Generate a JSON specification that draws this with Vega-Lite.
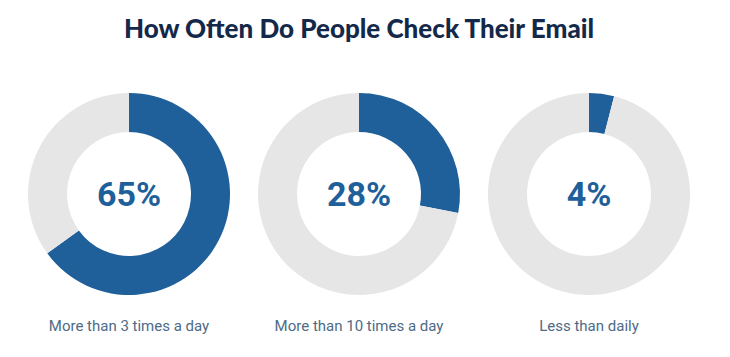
{
  "$schema": "https://vega.github.io/schema/vega-lite/v6.json",
  "padding": {"left": 28, "top": 17, "right": 40, "bottom": 10},
  "background": "white",
  "title": {"text": "How Often Do People Check Their Email", "font": "Lato", "fontSize": 26, "fontWeight": 900, "color": "#14294a", "anchor": "middle", "offset": 50},
  "data": {"values": [
    {"category": "More than 3 times a day", "part": "share", "order": 1, "value": 65, "label": "65%"},
    {"category": "More than 3 times a day", "part": "rest", "order": 2, "value": 35, "label": ""},
    {"category": "More than 10 times a day", "part": "share", "order": 1, "value": 28, "label": "28%"},
    {"category": "More than 10 times a day", "part": "rest", "order": 2, "value": 72, "label": ""},
    {"category": "Less than daily", "part": "share", "order": 1, "value": 4, "label": "4%"},
    {"category": "Less than daily", "part": "rest", "order": 2, "value": 96, "label": ""}
  ]},
  "facet": {"column": {"field": "category", "type": "nominal", "sort": ["More than 3 times a day", "More than 10 times a day", "Less than daily"], "header": {"title": null, "labelOrient": "bottom", "labelPadding": 24, "labelFont": "Roboto", "labelFontSize": 15, "labelColor": "#4d6b86"}}},
  "spacing": 28,
  "spec": {
    "width": 202,
    "height": 202,
    "layer": [
      {
        "mark": {"type": "arc", "outerRadius": 101, "innerRadius": 62},
        "encoding": {
          "theta": {"field": "value", "type": "quantitative", "stack": true},
          "color": {"field": "part", "type": "nominal", "scale": {"domain": ["share", "rest"], "range": ["#1f5f9a", "#e6e6e6"]}, "legend": null},
          "order": {"field": "order", "type": "quantitative"}
        }
      },
      {
        "transform": [{"filter": "datum.part === 'share'"}],
        "mark": {"type": "text", "font": "Roboto", "fontSize": 34, "fontWeight": "bold", "color": "#1f5f9a", "dy": 2},
        "encoding": {"text": {"field": "label", "type": "nominal"}}
      }
    ]
  },
  "config": {"view": {"stroke": null}}
}
